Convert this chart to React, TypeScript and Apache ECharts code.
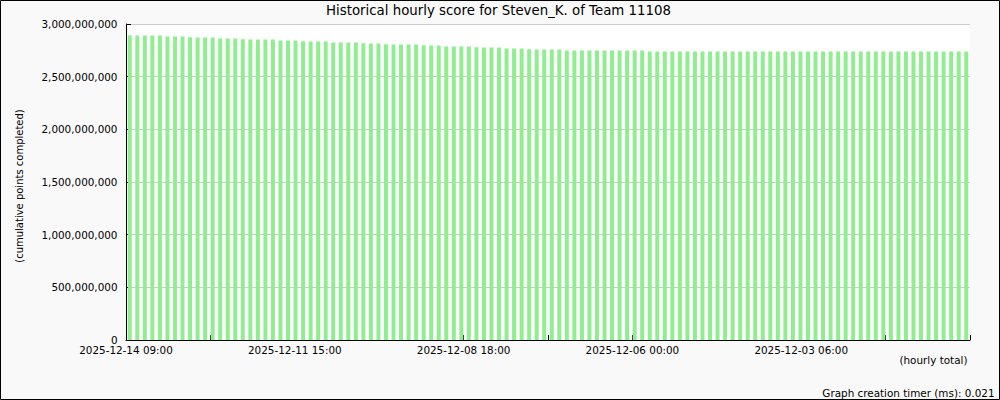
import React, { useEffect, useRef } from "react";
import * as echarts from "echarts";

const chartTitle = "Historical hourly score for Steven_K. of Team 11108";
const yAxisName = "(cumulative points completed)";
const xAxisName = "(hourly total)";
const timerText = "Graph creation timer (ms): 0.021";

// tick labels shown every other x tick (newest on the left)
const hourLabels = [
  "2025-12-14 09:00",
  "2025-12-11 15:00",
  "2025-12-08 18:00",
  "2025-12-06 00:00",
  "2025-12-03 06:00",
];

// cumulative score per hour, newest first (112 bars)
const scores = [
  2892100000, 2891900000, 2891700000, 2891500000, 2891300000,
  2882400000, 2882100000, 2881800000,
  2873200000, 2872900000, 2872700000, 2872400000,
  2863300000, 2863000000, 2862800000,
  2854200000, 2854000000, 2853800000, 2853500000, 2853300000,
  2844300000, 2844000000, 2843800000,
  2835100000, 2834900000, 2834700000, 2834400000,
  2825400000, 2825100000, 2824900000, 2824700000,
  2816200000, 2816000000, 2815700000,
  2806600000, 2806300000, 2806100000, 2805900000, 2805600000,
  2797100000, 2796800000, 2796500000,
  2787300000, 2787100000, 2786800000, 2786600000,
  2778200000, 2778000000, 2777800000, 2777500000,
  2768300000, 2768100000, 2767800000,
  2759200000, 2759000000, 2758800000, 2758600000, 2758400000,
  2749300000, 2749200000, 2749100000, 2749000000, 2749000000, 2748900000,
  2748900000, 2748800000, 2748800000, 2748700000, 2748700000,
  2740100000, 2740000000, 2740000000, 2739900000, 2739900000, 2739900000,
  2739800000, 2739800000, 2739800000, 2739700000, 2739700000, 2739700000,
  2739700000, 2739600000, 2739600000, 2739600000, 2739600000, 2739500000,
  2739500000, 2739500000, 2739500000, 2739500000, 2739400000, 2739400000,
  2739400000, 2739400000, 2739400000, 2739300000, 2739300000, 2739300000,
  2739300000, 2739300000, 2739300000, 2739200000, 2739200000, 2739200000,
  2739200000, 2739200000, 2739200000, 2739200000, 2739100000, 2739100000,
  2739100000,
];

const yMax = 3000000000;
const yStep = 500000000;
const slot = 5; // x units per hourly bar
const tickEvery = 56; // x units between ticks

const FONT = "DejaVu Sans";
const SMALL = 10.4;

export default function App() {
  const ref = useRef<HTMLDivElement>(null);

  useEffect(() => {
    document.body.style.margin = "0";
    if (!ref.current) return;
    const chart = echarts.init(ref.current, null, { renderer: "svg" });
    const xMax = scores.length * slot;
    chart.setOption({
      animation: false,
      backgroundColor: "#f9f9f9",
      textStyle: { fontFamily: FONT },
      grid: {
        left: 126,
        right: 30,
        top: 24,
        bottom: 60,
        show: true,
        backgroundColor: "#ffffff",
        borderWidth: 0,
      },
      xAxis: {
        type: "value",
        min: 0,
        max: xMax,
        interval: tickEvery,
        axisLine: { show: true, onZero: false, lineStyle: { color: "#000", width: 1 } },
        axisTick: { show: true, inside: true, length: 5, lineStyle: { color: "#000" } },
        splitLine: { show: false },
        axisLabel: {
          show: true,
          color: "#000",
          fontFamily: FONT,
          fontSize: SMALL,
          lineHeight: 8,
          margin: 6,
          showMinLabel: true,
          showMaxLabel: true,
          hideOverlap: false,
          formatter: (v: number) => {
            const k = Math.round(v / tickEvery);
            if (k % 2 === 0 && k / 2 < hourLabels.length) return hourLabels[k / 2];
            return "";
          },
        },
      },
      yAxis: {
        type: "value",
        min: 0,
        max: yMax,
        interval: yStep,
        axisLine: { show: true, lineStyle: { color: "#000", width: 1 } },
        axisTick: { show: true, inside: true, length: 5, lineStyle: { color: "#000" } },
        splitLine: { show: true, lineStyle: { color: "#cccccc", width: 1 } },
        axisLabel: {
          color: "#000",
          fontFamily: FONT,
          fontSize: SMALL,
          lineHeight: 8,
          padding: [0, 0, 3, 0],
          margin: 8.5,
          formatter: (v: number) => v.toLocaleString("en-US"),
        },
      },
      series: [
        {
          type: "bar",
          barWidth: 4,
          itemStyle: { color: "#90ee90" },
          data: scores.map((s, i) => [i * slot + slot / 2, s]),
        },
      ],
      graphic: [
        {
          type: "rect",
          shape: { x: 0.5, y: 0.5, width: 999, height: 399 },
          style: { fill: "none", stroke: "#000", lineWidth: 1 },
          silent: true,
        },
        {
          type: "text",
          x: 498.5,
          y: 10.5,
          style: {
            text: chartTitle,
            align: "center",
            verticalAlign: "middle",
            fontFamily: FONT,
            fontSize: 13.33,
            fill: "#000",
          },
        },
        {
          type: "text",
          x: 19,
          y: 186,
          rotation: Math.PI / 2,
          style: {
            text: yAxisName,
            align: "center",
            verticalAlign: "middle",
            fontFamily: FONT,
            fontSize: 10,
            fill: "#000",
          },
        },
        {
          type: "text",
          x: 967.5,
          y: 359.5,
          style: {
            text: xAxisName,
            align: "right",
            verticalAlign: "middle",
            fontFamily: FONT,
            fontSize: SMALL,
            fill: "#000",
          },
        },
        {
          type: "text",
          x: 994.5,
          y: 393,
          style: {
            text: timerText,
            align: "right",
            verticalAlign: "middle",
            fontFamily: FONT,
            fontSize: SMALL,
            fill: "#000",
          },
        },
      ],
    });
    return () => chart.dispose();
  }, []);

  return <div ref={ref} style={{ width: 1000, height: 400 }} />;
}
